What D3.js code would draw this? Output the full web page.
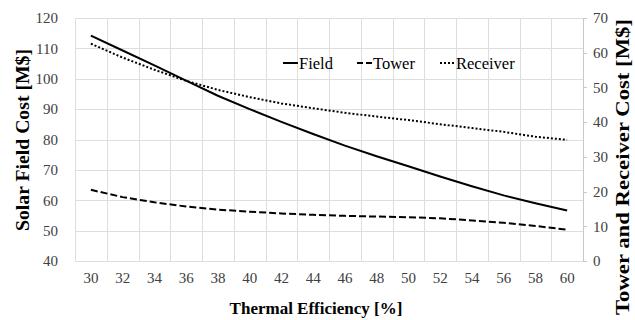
<!DOCTYPE html>
<html><head><meta charset="utf-8">
<script src="https://cdn.jsdelivr.net/npm/d3@7/dist/d3.min.js"></script>
<style>body{margin:0;background:#fff}svg{display:block}</style>
</head><body>
<svg id="c" width="635" height="320"></svg>
<script>
const efficiency = [30,32,34,36,38,40,42,44,46,48,50,52,54,56,58,60];
const fieldCost = [114.2,109.3,104.4,99.4,94.4,90.0,85.8,81.8,78.0,74.5,71.2,67.8,64.6,61.6,59.0,56.6];
const towerCost = [20.5,18.4,16.9,15.7,14.8,14.2,13.7,13.3,13.0,12.8,12.6,12.3,11.7,11.0,10.1,9.0];
const receiverCost = [62.6,58.6,55.1,51.9,49.3,47.2,45.4,44.0,42.7,41.6,40.6,39.4,38.3,37.2,35.8,34.9];
const leftTicks = [40,50,60,70,80,90,100,110,120];
const rightTicks = [0,10,20,30,40,50,60,70];

const svg = d3.select("#c");
const L = 75, R = 583, T = 18, B = 261;
const font = "'Liberation Serif','DejaVu Serif',serif";
const x = d3.scaleBand().domain(efficiency).range([L, R]);
const yL = d3.scaleLinear().domain([40,120]).range([B, T]);
const yR = d3.scaleLinear().domain([0,70]).range([B, T]);

const grid = svg.append("g").attr("stroke","#dedede").attr("stroke-width",1);
leftTicks.forEach(t => grid.append("line").attr("x1",L).attr("x2",R).attr("y1",Math.round(yL(t))+0.5).attr("y2",Math.round(yL(t))+0.5));
const bounds = efficiency.map(e => x(e)).concat([R]);
bounds.forEach(b => grid.append("line").attr("x1",Math.round(b)+0.5).attr("x2",Math.round(b)+0.5).attr("y1",T).attr("y2",B));

// right axis line + ticks
const ra = svg.append("g").attr("stroke","#c8c8c8");
ra.append("line").attr("x1",R+0.5).attr("x2",R+0.5).attr("y1",T).attr("y2",B);
rightTicks.forEach(t => ra.append("line").attr("x1",R).attr("x2",R+4).attr("y1",Math.round(yR(t))+0.5).attr("y2",Math.round(yR(t))+0.5));

const txt = svg.append("g").attr("font-family",font).attr("fill","#404040").attr("font-size",15);
leftTicks.forEach(t => txt.append("text").attr("x",58).attr("y",yL(t)).attr("dy","0.35em").attr("text-anchor","end").text(t));
rightTicks.forEach(t => txt.append("text").attr("x",593).attr("y",yR(t)).attr("dy","0.35em").attr("text-anchor","start").text(t));
efficiency.forEach(e => txt.append("text").attr("x",x(e)+x.bandwidth()/2).attr("y",278).attr("dy","0.35em").attr("text-anchor","middle").text(e));

const titles = svg.append("g").attr("font-family",font).attr("font-weight","bold").attr("fill","#000");
titles.append("text").attr("x",316).attr("y",308).attr("dy","0.35em").attr("font-size",17).attr("text-anchor","middle").text("Thermal Efficiency [%]");
titles.append("text").attr("transform","translate(22,140) rotate(-90)").attr("dy","0.35em").attr("font-size",19)
  .attr("text-anchor","middle").attr("textLength",182).attr("lengthAdjust","spacingAndGlyphs").text("Solar Field Cost [M$]");
titles.append("text").attr("transform","translate(623,167) rotate(-90)").attr("dy","0.35em").attr("font-size",18.5)
  .attr("text-anchor","middle").attr("textLength",296).attr("lengthAdjust","spacingAndGlyphs").text("Tower and Receiver Cost [M$]");

const cx = e => x(e) + x.bandwidth()/2;
const lineL = d3.line().x((d,i)=>cx(efficiency[i])).y(d=>yL(d));
const lineR = d3.line().x((d,i)=>cx(efficiency[i])).y(d=>yR(d));
svg.append("path").attr("d",lineR(receiverCost)).attr("fill","none").attr("stroke","#000").attr("stroke-width",2).attr("stroke-dasharray","2,2");
svg.append("path").attr("d",lineR(towerCost)).attr("fill","none").attr("stroke","#000").attr("stroke-width",2).attr("stroke-dasharray","7,3");
svg.append("path").attr("d",lineL(fieldCost)).attr("fill","none").attr("stroke","#000").attr("stroke-width",2);

// legend
const leg = [{n:"Field",d:null,x:283},{n:"Tower",d:"6,3",x:357},{n:"Receiver",d:"2,2",x:440}];
const lg = svg.append("g");
leg.forEach(l => {
  lg.append("line").attr("x1",l.x).attr("x2",l.x+15).attr("y1",63).attr("y2",63).attr("stroke","#000").attr("stroke-width",2).attr("stroke-dasharray",l.d);
  lg.append("text").attr("x",l.x+16).attr("y",63).attr("dy","0.35em").attr("font-family",font).attr("font-size",16.5).attr("fill","#000").text(l.n);
});
</script>
</body></html>
